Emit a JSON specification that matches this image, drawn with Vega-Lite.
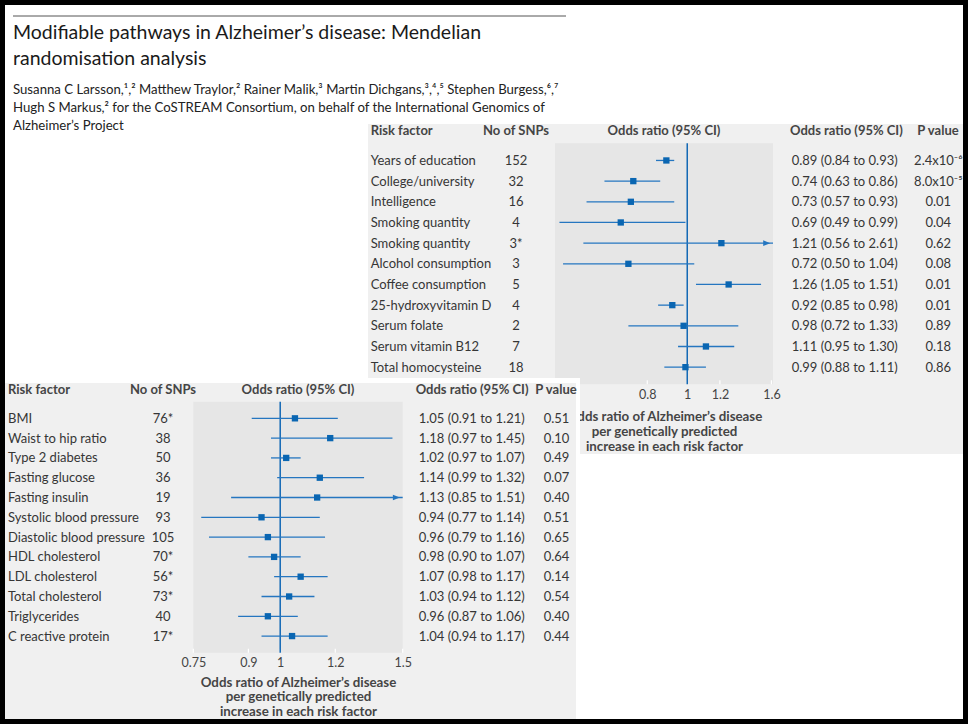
{
  "$schema": "https://vega.github.io/schema/vega-lite/v6.json",
  "width": 958,
  "height": 714,
  "autosize": {"type": "none"},
  "padding": 5,
  "background": "#000000",
  "config": {
    "view": {"fill": "#f0f0f0", "stroke": null},
    "font": "Lato",
    "text": {"font": "Lato", "fontSize": 13, "color": "#363636"}
  },
  "title": {
    "text": ["Modifiable pathways in Alzheimer’s disease: Mendelian", "randomisation analysis"],
    "subtitle": ["Susanna C Larsson,¹,² Matthew Traylor,² Rainer Malik,³ Martin Dichgans,³,⁴,⁵ Stephen Burgess,⁶,⁷", "Hugh S Markus,² for the CoSTREAM Consortium, on behalf of the International Genomics of", "Alzheimer’s Project"],
    "orient": "top", "anchor": "start", "frame": "group", "offset": -128.5, "dx": 8,
    "font": "Lato", "fontSize": 19.5, "fontWeight": 400, "color": "#1a1a1a", "lineHeight": 26,
    "subtitleFont": "Lato", "subtitleFontSize": 13.2, "subtitleColor": "#222222", "subtitleLineHeight": 18, "subtitlePadding": 15
  },
  "datasets": {
    "upper": [
      {"key": "u1", "factor": "Years of education", "snps": "152", "or": 0.89, "lo": 0.84, "hi": 0.93, "ci": "0.89 (0.84 to 0.93)", "p": "2.4x10⁻⁶"},
      {"key": "u2", "factor": "College/university", "snps": "32", "or": 0.74, "lo": 0.63, "hi": 0.86, "ci": "0.74 (0.63 to 0.86)", "p": "8.0x10⁻⁵"},
      {"key": "u3", "factor": "Intelligence", "snps": "16", "or": 0.73, "lo": 0.57, "hi": 0.93, "ci": "0.73 (0.57 to 0.93)", "p": "0.01"},
      {"key": "u4", "factor": "Smoking quantity", "snps": "4", "or": 0.69, "lo": 0.49, "hi": 0.99, "ci": "0.69 (0.49 to 0.99)", "p": "0.04"},
      {"key": "u5", "factor": "Smoking quantity", "snps": "3*", "or": 1.21, "lo": 0.56, "hi": 2.61, "ci": "1.21 (0.56 to 2.61)", "p": "0.62"},
      {"key": "u6", "factor": "Alcohol consumption", "snps": "3", "or": 0.72, "lo": 0.50, "hi": 1.04, "ci": "0.72 (0.50 to 1.04)", "p": "0.08"},
      {"key": "u7", "factor": "Coffee consumption", "snps": "5", "or": 1.26, "lo": 1.05, "hi": 1.51, "ci": "1.26 (1.05 to 1.51)", "p": "0.01"},
      {"key": "u8", "factor": "25-hydroxyvitamin D", "snps": "4", "or": 0.92, "lo": 0.85, "hi": 0.98, "ci": "0.92 (0.85 to 0.98)", "p": "0.01"},
      {"key": "u9", "factor": "Serum folate", "snps": "2", "or": 0.98, "lo": 0.72, "hi": 1.33, "ci": "0.98 (0.72 to 1.33)", "p": "0.89"},
      {"key": "u10", "factor": "Serum vitamin B12", "snps": "7", "or": 1.11, "lo": 0.95, "hi": 1.30, "ci": "1.11 (0.95 to 1.30)", "p": "0.18"},
      {"key": "u11", "factor": "Total homocysteine", "snps": "18", "or": 0.99, "lo": 0.88, "hi": 1.11, "ci": "0.99 (0.88 to 1.11)", "p": "0.86"}
    ],
    "lower": [
      {"key": "l1", "factor": "BMI", "snps": "76*", "or": 1.05, "lo": 0.91, "hi": 1.21, "ci": "1.05 (0.91 to 1.21)", "p": "0.51"},
      {"key": "l2", "factor": "Waist to hip ratio", "snps": "38", "or": 1.18, "lo": 0.97, "hi": 1.45, "ci": "1.18 (0.97 to 1.45)", "p": "0.10"},
      {"key": "l3", "factor": "Type 2 diabetes", "snps": "50", "or": 1.02, "lo": 0.97, "hi": 1.07, "ci": "1.02 (0.97 to 1.07)", "p": "0.49"},
      {"key": "l4", "factor": "Fasting glucose", "snps": "36", "or": 1.14, "lo": 0.99, "hi": 1.32, "ci": "1.14 (0.99 to 1.32)", "p": "0.07"},
      {"key": "l5", "factor": "Fasting insulin", "snps": "19", "or": 1.13, "lo": 0.85, "hi": 1.51, "ci": "1.13 (0.85 to 1.51)", "p": "0.40"},
      {"key": "l6", "factor": "Systolic blood pressure", "snps": "93", "or": 0.94, "lo": 0.77, "hi": 1.14, "ci": "0.94 (0.77 to 1.14)", "p": "0.51"},
      {"key": "l7", "factor": "Diastolic blood pressure", "snps": "105", "or": 0.96, "lo": 0.79, "hi": 1.16, "ci": "0.96 (0.79 to 1.16)", "p": "0.65"},
      {"key": "l8", "factor": "HDL cholesterol", "snps": "70*", "or": 0.98, "lo": 0.90, "hi": 1.07, "ci": "0.98 (0.90 to 1.07)", "p": "0.64"},
      {"key": "l9", "factor": "LDL cholesterol", "snps": "56*", "or": 1.07, "lo": 0.98, "hi": 1.17, "ci": "1.07 (0.98 to 1.17)", "p": "0.14"},
      {"key": "l10", "factor": "Total cholesterol", "snps": "73*", "or": 1.03, "lo": 0.94, "hi": 1.12, "ci": "1.03 (0.94 to 1.12)", "p": "0.54"},
      {"key": "l11", "factor": "Triglycerides", "snps": "40", "or": 0.96, "lo": 0.87, "hi": 1.06, "ci": "0.96 (0.87 to 1.06)", "p": "0.40"},
      {"key": "l12", "factor": "C reactive protein", "snps": "17*", "or": 1.04, "lo": 0.94, "hi": 1.17, "ci": "1.04 (0.94 to 1.17)", "p": "0.44"}
    ],
    "upperTicks": [{"t": 0.8}, {"t": 1}, {"t": 1.2}, {"t": 1.6}],
    "lowerTicks": [{"t": 0.75}, {"t": 0.9}, {"t": 1}, {"t": 1.2}, {"t": 1.5}]
  },
  "data": {"values": [{}]},
  "resolve": {"scale": {"x": "independent", "y": "independent"}, "axis": {"x": "independent", "y": "independent"}},
  "layer": [
    {"mark": {"type": "rect", "color": "#ffffff"}, "encoding": {"x": {"value": 0}, "x2": {"value": 958}, "y": {"value": 0}, "y2": {"value": 119}}},
    {"mark": {"type": "rect", "color": "#ffffff"}, "encoding": {"x": {"value": 0}, "x2": {"value": 363}, "y": {"value": 119}, "y2": {"value": 373}}},
    {"mark": {"type": "rect", "color": "#ffffff"}, "encoding": {"x": {"value": 575}, "x2": {"value": 958}, "y": {"value": 449}, "y2": {"value": 714}}},
    {"mark": {"type": "rule", "color": "#555555", "strokeWidth": 1}, "encoding": {"x": {"value": 8}, "x2": {"value": 561}, "y": {"value": 11}}},
    {"mark": {"type": "rect", "color": "#e6e6e6"}, "encoding": {"x": {"value": 550}, "x2": {"value": 768}, "y": {"value": 138.3}, "y2": {"value": 379.3}}},
    {"mark": {"type": "text", "fontWeight": "bold", "color": "#454545", "align": "left"}, "encoding": {"text": {"datum": "Risk factor"}, "x": {"value": 365.7}, "y": {"value": 126}}},
    {"mark": {"type": "text", "fontWeight": "bold", "color": "#454545", "align": "center"}, "encoding": {"text": {"datum": "No of SNPs"}, "x": {"value": 511}, "y": {"value": 126}}},
    {"mark": {"type": "text", "fontWeight": "bold", "color": "#454545", "align": "center"}, "encoding": {"text": {"datum": "Odds ratio (95% CI)"}, "x": {"value": 659}, "y": {"value": 126}}},
    {"mark": {"type": "text", "fontWeight": "bold", "color": "#454545", "align": "left"}, "encoding": {"text": {"datum": "Odds ratio (95% CI)"}, "x": {"value": 785}, "y": {"value": 126}}},
    {"mark": {"type": "text", "fontWeight": "bold", "color": "#454545", "align": "center"}, "encoding": {"text": {"datum": "P value"}, "x": {"value": 933}, "y": {"value": 126}}},
    {
      "data": {"name": "upperTicks"},
      "mark": {"type": "rule", "color": "#ffffff", "strokeWidth": 1.2},
      "encoding": {
        "x": {"field": "t", "type": "quantitative", "axis": null, "scale": {"type": "log", "domain": [0.478, 1.614], "range": [550, 768], "nice": false, "clamp": true}},
        "y": {"value": 375.3},
        "y2": {"value": 379.3}
      }
    },
    {
      "data": {"values": [{"ref": 1}]},
      "mark": {"type": "rule", "color": "#1268b5", "strokeWidth": 1.5},
      "encoding": {
        "x": {
          "field": "ref", "type": "quantitative",
          "scale": {"type": "log", "domain": [0.478, 1.614], "range": [550, 768], "nice": false, "clamp": true},
          "axis": {
            "orient": "bottom", "offset": -334.7, "zindex": 0,
            "values": [0.8, 1, 1.2, 1.6], "format": "~g", "domain": false, "grid": false, "ticks": false, "labelPadding": 4,
            "labelFont": "Lato", "labelFontSize": 12.5, "labelColor": "#444444", "labelFlush": false, "labelOverlap": false,
            "title": ["Odds ratio of Alzheimer’s disease", "per genetically predicted", "increase in each risk factor"],
            "titleFont": "Lato", "titleFontSize": 13.3, "titleFontWeight": "bold", "titleColor": "#454545", "titleLineHeight": 14.7, "titlePadding": 9
          }
        },
        "y": {"value": 138.3},
        "y2": {"value": 379.3}
      }
    },
    {
      "data": {"name": "upper"},
      "mark": {"type": "rule", "color": "#2576c0", "strokeWidth": 1.3},
      "encoding": {
        "y": {"field": "key", "type": "nominal", "sort": null, "axis": null, "scale": {"type": "band", "range": [138.3, 379.3], "paddingInner": 0, "paddingOuter": 0.33}},
        "x": {"field": "lo", "type": "quantitative", "axis": null, "scale": {"type": "log", "domain": [0.478, 1.614], "range": [550, 768], "nice": false, "clamp": true}},
        "x2": {"field": "hi"}
      }
    },
    {
      "data": {"name": "upper"},
      "mark": {"type": "square", "filled": true, "size": 40, "color": "#0a66b2", "opacity": 1},
      "encoding": {
        "y": {"field": "key", "type": "nominal", "sort": null, "axis": null, "scale": {"type": "band", "range": [138.3, 379.3], "paddingInner": 0, "paddingOuter": 0.33}},
        "x": {"field": "or", "type": "quantitative", "axis": null, "scale": {"type": "log", "domain": [0.478, 1.614], "range": [550, 768], "nice": false, "clamp": true}}
      }
    },
    {
      "data": {"name": "upper"},
      "mark": {"type": "point", "shape": "M-1.4,-0.4L-0.4,0L-1.4,0.4Z", "filled": true, "size": 196, "color": "#2576c0"},
      "encoding": {
        "y": {"field": "key", "type": "nominal", "sort": null, "axis": null, "scale": {"type": "band", "range": [138.3, 379.3], "paddingInner": 0, "paddingOuter": 0.33}},
        "x": {"field": "hi", "type": "quantitative", "axis": null, "scale": {"type": "log", "domain": [0.478, 1.614], "range": [550, 768], "nice": false, "clamp": true}},
        "opacity": {"condition": {"test": "datum.hi > 1.614", "value": 1}, "value": 0}
      }
    },
    {
      "data": {"name": "upper"},
      "mark": {"type": "text", "align": "left", "dy": 0.5},
      "encoding": {"y": {"field": "key", "type": "nominal", "sort": null, "axis": null, "scale": {"type": "band", "range": [138.3, 379.3], "paddingInner": 0, "paddingOuter": 0.33}}, "x": {"value": 365.7}, "text": {"field": "factor"}}
    },
    {
      "data": {"name": "upper"},
      "mark": {"type": "text", "align": "center", "dy": 0.5},
      "encoding": {"y": {"field": "key", "type": "nominal", "sort": null, "axis": null, "scale": {"type": "band", "range": [138.3, 379.3], "paddingInner": 0, "paddingOuter": 0.33}}, "x": {"value": 511}, "text": {"field": "snps"}}
    },
    {
      "data": {"name": "upper"},
      "mark": {"type": "text", "align": "left", "dy": 0.5},
      "encoding": {"y": {"field": "key", "type": "nominal", "sort": null, "axis": null, "scale": {"type": "band", "range": [138.3, 379.3], "paddingInner": 0, "paddingOuter": 0.33}}, "x": {"value": 786.7}, "text": {"field": "ci"}}
    },
    {
      "data": {"name": "upper"},
      "mark": {"type": "text", "align": "center", "dy": 0.5},
      "encoding": {"y": {"field": "key", "type": "nominal", "sort": null, "axis": null, "scale": {"type": "band", "range": [138.3, 379.3], "paddingInner": 0, "paddingOuter": 0.33}}, "x": {"value": 933.3}, "text": {"field": "p"}}
    },
    {"mark": {"type": "rect", "color": "#ffffff"}, "encoding": {"x": {"value": 0}, "x2": {"value": 575}, "y": {"value": 373}, "y2": {"value": 714}}},
    {"mark": {"type": "rect", "color": "#f0f0f0"}, "encoding": {"x": {"value": 0}, "x2": {"value": 571}, "y": {"value": 378}, "y2": {"value": 714}}},
    {"mark": {"type": "rect", "color": "#e6e6e6"}, "encoding": {"x": {"value": 188.3}, "x2": {"value": 397.7}, "y": {"value": 396.7}, "y2": {"value": 647.7}}},
    {"mark": {"type": "text", "fontWeight": "bold", "color": "#454545", "align": "left"}, "encoding": {"text": {"datum": "Risk factor"}, "x": {"value": 3}, "y": {"value": 385}}},
    {"mark": {"type": "text", "fontWeight": "bold", "color": "#454545", "align": "center"}, "encoding": {"text": {"datum": "No of SNPs"}, "x": {"value": 158}, "y": {"value": 385}}},
    {"mark": {"type": "text", "fontWeight": "bold", "color": "#454545", "align": "center"}, "encoding": {"text": {"datum": "Odds ratio (95% CI)"}, "x": {"value": 293}, "y": {"value": 385}}},
    {"mark": {"type": "text", "fontWeight": "bold", "color": "#454545", "align": "left"}, "encoding": {"text": {"datum": "Odds ratio (95% CI)"}, "x": {"value": 410.7}, "y": {"value": 385}}},
    {"mark": {"type": "text", "fontWeight": "bold", "color": "#454545", "align": "center"}, "encoding": {"text": {"datum": "P value"}, "x": {"value": 551}, "y": {"value": 385}}},
    {
      "data": {"name": "lowerTicks"},
      "mark": {"type": "rule", "color": "#ffffff", "strokeWidth": 1.2},
      "encoding": {
        "x": {"field": "t", "type": "quantitative", "axis": null, "scale": {"type": "log", "domain": [0.75, 1.5], "range": [188.3, 397.7], "nice": false, "clamp": true}},
        "y": {"value": 643.7},
        "y2": {"value": 647.7}
      }
    },
    {
      "data": {"values": [{"ref": 1}]},
      "mark": {"type": "rule", "color": "#1268b5", "strokeWidth": 1.5},
      "encoding": {
        "x": {
          "field": "ref", "type": "quantitative",
          "scale": {"type": "log", "domain": [0.75, 1.5], "range": [188.3, 397.7], "nice": false, "clamp": true},
          "axis": {
            "orient": "bottom", "offset": -66.3, "zindex": 1,
            "values": [0.75, 0.9, 1, 1.2, 1.5], "format": "~g", "domain": false, "grid": false, "ticks": false, "labelPadding": 4,
            "labelFont": "Lato", "labelFontSize": 12.5, "labelColor": "#444444", "labelFlush": false, "labelOverlap": false,
            "title": ["Odds ratio of Alzheimer’s disease", "per genetically predicted", "increase in each risk factor"],
            "titleFont": "Lato", "titleFontSize": 13.3, "titleFontWeight": "bold", "titleColor": "#454545", "titleLineHeight": 14.5, "titlePadding": 6
          }
        },
        "y": {"value": 396.7},
        "y2": {"value": 647.7}
      }
    },
    {
      "data": {"name": "lower"},
      "mark": {"type": "rule", "color": "#2576c0", "strokeWidth": 1.3},
      "encoding": {
        "y": {"field": "key", "type": "nominal", "sort": null, "axis": null, "scale": {"type": "band", "range": [396.7, 647.7], "paddingInner": 0, "paddingOuter": 0.34}},
        "x": {"field": "lo", "type": "quantitative", "axis": null, "scale": {"type": "log", "domain": [0.75, 1.5], "range": [188.3, 397.7], "nice": false, "clamp": true}},
        "x2": {"field": "hi"}
      }
    },
    {
      "data": {"name": "lower"},
      "mark": {"type": "square", "filled": true, "size": 40, "color": "#0a66b2", "opacity": 1},
      "encoding": {
        "y": {"field": "key", "type": "nominal", "sort": null, "axis": null, "scale": {"type": "band", "range": [396.7, 647.7], "paddingInner": 0, "paddingOuter": 0.34}},
        "x": {"field": "or", "type": "quantitative", "axis": null, "scale": {"type": "log", "domain": [0.75, 1.5], "range": [188.3, 397.7], "nice": false, "clamp": true}}
      }
    },
    {
      "data": {"name": "lower"},
      "mark": {"type": "point", "shape": "M-1.4,-0.4L-0.4,0L-1.4,0.4Z", "filled": true, "size": 196, "color": "#2576c0"},
      "encoding": {
        "y": {"field": "key", "type": "nominal", "sort": null, "axis": null, "scale": {"type": "band", "range": [396.7, 647.7], "paddingInner": 0, "paddingOuter": 0.34}},
        "x": {"field": "hi", "type": "quantitative", "axis": null, "scale": {"type": "log", "domain": [0.75, 1.5], "range": [188.3, 397.7], "nice": false, "clamp": true}},
        "opacity": {"condition": {"test": "datum.hi > 1.5", "value": 1}, "value": 0}
      }
    },
    {
      "data": {"name": "lower"},
      "mark": {"type": "text", "align": "left", "dy": 0.5},
      "encoding": {"y": {"field": "key", "type": "nominal", "sort": null, "axis": null, "scale": {"type": "band", "range": [396.7, 647.7], "paddingInner": 0, "paddingOuter": 0.34}}, "x": {"value": 3}, "text": {"field": "factor"}}
    },
    {
      "data": {"name": "lower"},
      "mark": {"type": "text", "align": "center", "dy": 0.5},
      "encoding": {"y": {"field": "key", "type": "nominal", "sort": null, "axis": null, "scale": {"type": "band", "range": [396.7, 647.7], "paddingInner": 0, "paddingOuter": 0.34}}, "x": {"value": 158}, "text": {"field": "snps"}}
    },
    {
      "data": {"name": "lower"},
      "mark": {"type": "text", "align": "left", "dy": 0.5},
      "encoding": {"y": {"field": "key", "type": "nominal", "sort": null, "axis": null, "scale": {"type": "band", "range": [396.7, 647.7], "paddingInner": 0, "paddingOuter": 0.34}}, "x": {"value": 413.7}, "text": {"field": "ci"}}
    },
    {
      "data": {"name": "lower"},
      "mark": {"type": "text", "align": "center", "dy": 0.5},
      "encoding": {"y": {"field": "key", "type": "nominal", "sort": null, "axis": null, "scale": {"type": "band", "range": [396.7, 647.7], "paddingInner": 0, "paddingOuter": 0.34}}, "x": {"value": 551.5}, "text": {"field": "p"}}
    }
  ]
}
